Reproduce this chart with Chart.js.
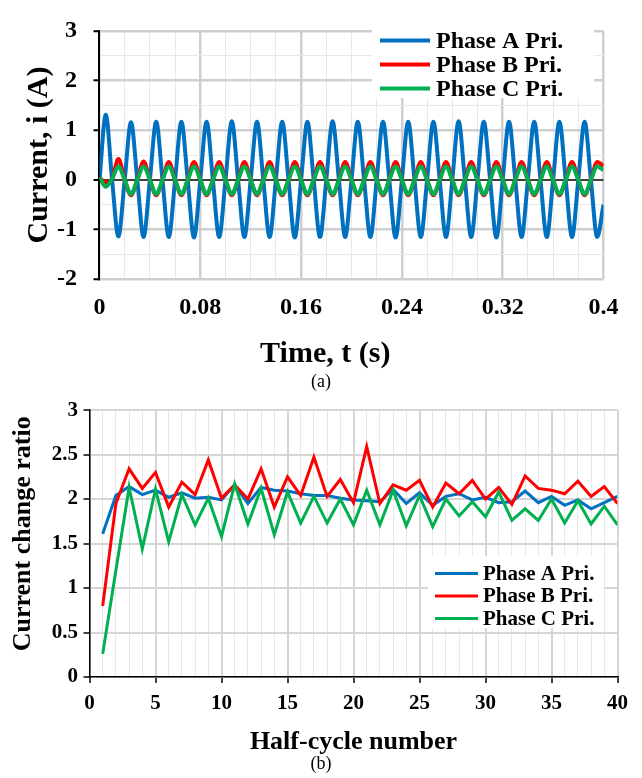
<!DOCTYPE html>
<html>
<head>
<meta charset="utf-8">
<script src="https://cdn.jsdelivr.net/npm/chart.js@4.4.1/dist/chart.umd.min.js"></script>
<style>
  html, body { margin: 0; padding: 0; background: #fff; }
  body { width: 642px; height: 778px; position: relative; overflow: hidden; font-family: 'Liberation Serif', 'Times New Roman', serif; }
  .wrap { position: absolute; left: 0; width: 642px; }
  .cap { position: absolute; left: 0; width: 642px; text-align: center; font-size: 18px; line-height: 20px; color: #000; }
</style>
</head>
<body>
<div class="wrap" style="top:0;height:374px"><canvas id="currentChart"></canvas></div>
<div class="cap" style="top:371px">(a)</div>
<div class="wrap" style="top:392px;height:368px"><canvas id="ratioChart"></canvas></div>
<div class="cap" style="top:753px">(b)</div>

<script>
// ---- figure (a): primary currents vs time ----
var timeS = [
  0, 0.005, 0.01, 0.015, 0.02, 0.025, 0.03, 0.035, 0.04, 0.045,
  0.05, 0.055, 0.06, 0.065, 0.07, 0.075, 0.08, 0.085, 0.09, 0.095,
  0.1, 0.105, 0.11, 0.115, 0.12, 0.125, 0.13, 0.135, 0.14, 0.145,
  0.15, 0.155, 0.16, 0.165, 0.17, 0.175, 0.18, 0.185, 0.19, 0.195,
  0.2, 0.205, 0.21, 0.215, 0.22, 0.225, 0.23, 0.235, 0.24, 0.245,
  0.25, 0.255, 0.26, 0.265, 0.27, 0.275, 0.28, 0.285, 0.29, 0.295,
  0.3, 0.305, 0.31, 0.315, 0.32, 0.325, 0.33, 0.335, 0.34, 0.345,
  0.35, 0.355, 0.36, 0.365, 0.37, 0.375, 0.38, 0.385, 0.39, 0.395,
  0.4
];
var currentA = [
  0, 1.31, 0, -1.14,   0, 1.16, 0, -1.15,   0, 1.17, 0, -1.15,   0, 1.17, 0, -1.16,
  0, 1.17, 0, -1.15,   0, 1.18, 0, -1.15,   0, 1.17, 0, -1.15,   0, 1.17, 0, -1.16,
  0, 1.17, 0, -1.15,   0, 1.18, 0, -1.15,   0, 1.17, 0, -1.15,   0, 1.17, 0, -1.16,
  0, 1.17, 0, -1.15,   0, 1.17, 0, -1.15,   0, 1.18, 0, -1.15,   0, 1.17, 0, -1.16,
  0, 1.17, 0, -1.15,   0, 1.17, 0, -1.15,   0, 1.17, 0, -1.15,   0, 1.17, 0, -1.15,
  -0.5
];
var currentB = [
  0.05, -0.06, 0.02, 0.42,   0, -0.31, 0, 0.37,   0, -0.31, 0, 0.36,   0, -0.31, 0, 0.36,
  0, -0.31, 0, 0.36,   0, -0.31, 0, 0.36,   0, -0.31, 0, 0.36,   0, -0.31, 0, 0.36,
  0, -0.31, 0, 0.36,   0, -0.31, 0, 0.36,   0, -0.31, 0, 0.36,   0, -0.31, 0, 0.36,
  0, -0.31, 0, 0.36,   0, -0.31, 0, 0.36,   0, -0.31, 0, 0.36,   0, -0.31, 0, 0.36,
  0, -0.31, 0, 0.36,   0, -0.31, 0, 0.36,   0, -0.31, 0, 0.36,   0, -0.31, 0, 0.36,
  0.28
];
var currentC = [
  0.05, -0.14, 0.02, 0.27,   0, -0.29, 0, 0.27,   0, -0.29, 0, 0.27,   0, -0.29, 0, 0.27,
  0, -0.29, 0, 0.27,   0, -0.29, 0, 0.27,   0, -0.29, 0, 0.27,   0, -0.29, 0, 0.27,
  0, -0.29, 0, 0.27,   0, -0.29, 0, 0.27,   0, -0.29, 0, 0.27,   0, -0.29, 0, 0.27,
  0, -0.29, 0, 0.27,   0, -0.29, 0, 0.27,   0, -0.29, 0, 0.27,   0, -0.29, 0, 0.27,
  0, -0.29, 0, 0.27,   0, -0.29, 0, 0.27,   0, -0.29, 0, 0.27,   0, -0.29, 0, 0.27,
  0.2
];
var timeTickLabels = ['0', '0.08', '0.16', '0.24', '0.32', '0.4'];
var currentTickLabels = ['-2', '-1', '0', '1', '2', '3'];

// ---- figure (b): current change ratio per half cycle ----
var halfCycle = [1, 2, 3, 4, 5, 6, 7, 8, 9, 10, 11, 12, 13, 14, 15, 16, 17, 18, 19, 20,
  21, 22, 23, 24, 25, 26, 27, 28, 29, 30, 31, 32, 33, 34, 35, 36, 37, 38, 39, 40];
var ratioA = [1.61, 2.04, 2.14, 2.05, 2.10, 2.02, 2.07, 2.01, 2.02, 1.99,
  2.16, 1.95, 2.13, 2.10, 2.09, 2.06, 2.04, 2.04, 2.01, 1.99,
  1.98, 1.97, 2.11, 1.95, 2.07, 1.93, 2.03, 2.06, 1.99, 2.02,
  1.96, 1.97, 2.09, 1.96, 2.03, 1.93, 1.99, 1.89, 1.96, 2.03];
var ratioB = [0.80, 1.95, 2.34, 2.12, 2.30, 1.91, 2.19, 2.05, 2.44, 2.01,
  2.16, 2.00, 2.34, 1.91, 2.25, 2.04, 2.47, 2.03, 2.22, 1.96,
  2.59, 1.95, 2.16, 2.10, 2.21, 1.91, 2.18, 2.06, 2.21, 2.00,
  2.13, 1.94, 2.26, 2.12, 2.10, 2.06, 2.20, 2.03, 2.14, 1.95];
var ratioC = [0.26, 1.20, 2.13, 1.44, 2.11, 1.52, 2.05, 1.71, 2.01, 1.58,
  2.17, 1.72, 2.12, 1.60, 2.08, 1.73, 2.03, 1.73, 2.00, 1.71,
  2.10, 1.71, 2.10, 1.70, 2.04, 1.69, 2.00, 1.81, 1.97, 1.80,
  2.08, 1.76, 1.89, 1.76, 2.00, 1.73, 1.98, 1.72, 1.92, 1.71];
var halfCycleTickLabels = ['0', '5', '10', '15', '20', '25', '30', '35', '40'];
var ratioTickLabels = ['0', '0.5', '1', '1.5', '2', '2.5', '3'];

var phaseNames = ['Phase A Pri.', 'Phase B Pri.', 'Phase C Pri.'];
var phaseColors = ['#0070C0', '#FF0000', '#00B050'];

Chart.defaults.font.family = "'Liberation Serif', 'Times New Roman', serif";
Chart.defaults.font.weight = 'bold';
Chart.defaults.color = '#000000';

var majorGrid = '#cfcfcf';
var minorGrid = '#e8e8e8';
var nbsp = '\u00a0';

// legend with a white box, placed inside the plot like the original
var boxLegend = {
  id: 'boxLegend',
  beforeDatasetsDraw: function(chart, args, o) {
    var c = chart.ctx;
    c.save();
    c.fillStyle = '#ffffff';
    c.fillRect(o.left, o.top, o.width, o.height);
    c.font = 'bold ' + o.fontSize + "px 'Liberation Serif', serif";
    c.textBaseline = 'middle';
    c.textAlign = 'left';
    chart.data.datasets.forEach(function(ds, i) {
      var y = o.firstRow + i * o.rowGap;
      c.strokeStyle = ds.borderColor;
      c.lineWidth = o.lineWidth;
      c.beginPath();
      c.moveTo(o.lineFrom, y);
      c.lineTo(o.lineTo, y);
      c.stroke();
      c.fillStyle = '#000000';
      c.fillText(ds.label, o.textX, y + 1);
    });
    c.restore();
  }
};

function xy(xs, ys) {
  return xs.map(function(x, i) { return {x: x, y: ys[i]}; });
}

// ---------- chart (a) ----------
var currentSeries = [currentA, currentB, currentC];
new Chart(document.getElementById('currentChart'), {
  type: 'line',
  data: {
    datasets: currentSeries.map(function(vals, i) {
      return {
        label: phaseNames[i],
        data: xy(timeS, vals),
        borderColor: phaseColors[i],
        borderWidth: 4,
        pointRadius: 0,
        fill: false,
        cubicInterpolationMode: 'monotone',
        order: 3 - i
      };
    })
  },
  options: {
    responsive: true,
    maintainAspectRatio: false,
    animation: false,
    devicePixelRatio: 1,
    layout: { padding: { left: 0, right: 38.5, top: 18.5, bottom: 0 } },
    plugins: {
      legend: { display: false },
      tooltip: { enabled: false },
      boxLegend: {
        left: 372, top: 26, width: 222, height: 72,
        firstRow: 40.5, rowGap: 24, lineFrom: 380, lineTo: 430, textX: 436,
        lineWidth: 4, fontSize: 24
      }
    },
    scales: {
      x: {
        type: 'linear', min: 0, max: 0.4,
        border: { display: false },
        grid: {
          drawTicks: false,
          color: function(ctx) {
            var k = Math.round(ctx.tick.value / 0.02);
            return k % 4 === 0 ? majorGrid : minorGrid;
          },
          lineWidth: function(ctx) {
            var k = Math.round(ctx.tick.value / 0.02);
            return k % 4 === 0 ? 2.5 : 1;
          }
        },
        ticks: {
          stepSize: 0.02, autoSkip: false, maxRotation: 0, padding: 14,
          font: { size: 24, weight: 'bold' },
          callback: function(v) {
            var k = Math.round(v / 0.02);
            return k % 4 === 0 ? timeTickLabels[k / 4] : '';
          }
        },
        title: {
          display: true, text: 'Time, t (s)' + nbsp.repeat(7),
          font: { size: 30, weight: 'bold' },
          padding: { top: 0, bottom: 2 }
        }
      },
      y: {
        min: -2, max: 3,
        border: { display: true, color: '#000000', width: 2 },
        grid: {
          tickLength: 6,
          color: function(ctx) {
            var k = Math.round(ctx.tick.value * 2);
            if (k === 0) return '#404040';
            return k % 2 === 0 ? majorGrid : minorGrid;
          },
          lineWidth: function(ctx) {
            var k = Math.round(ctx.tick.value * 2);
            if (k === 0) return 2;
            return k % 2 === 0 ? 2.5 : 1;
          },
          tickColor: function(ctx) {
            var k = Math.round(ctx.tick.value * 2);
            return k % 2 === 0 ? '#000000' : 'rgba(0,0,0,0)';
          },
          tickWidth: 2
        },
        ticks: {
          stepSize: 0.5, autoSkip: false, padding: 16.5,
          font: { size: 24, weight: 'bold' },
          callback: function(v) {
            var k = Math.round(v * 2);
            return k % 2 === 0 ? currentTickLabels[k / 2 + 2] : '';
          }
        },
        title: {
          display: true, text: 'Current, i (A)',
          font: { size: 30, weight: 'bold' },
          padding: { top: 21, bottom: -16.5 }
        }
      }
    }
  },
  plugins: [boxLegend]
});

// ---------- chart (b) ----------
var ratioSeries = [ratioA, ratioB, ratioC];
new Chart(document.getElementById('ratioChart'), {
  type: 'line',
  data: {
    datasets: ratioSeries.map(function(vals, i) {
      return {
        label: phaseNames[i],
        data: xy(halfCycle, vals),
        borderColor: phaseColors[i],
        borderWidth: 3,
        pointRadius: 0,
        fill: false,
        tension: 0,
        order: 3 - i
      };
    })
  },
  options: {
    responsive: true,
    maintainAspectRatio: false,
    animation: false,
    devicePixelRatio: 1,
    layout: { padding: { left: 0, right: 24.5, top: 12.8, bottom: 0 } },
    plugins: {
      legend: { display: false },
      tooltip: { enabled: false },
      boxLegend: {
        left: 428, top: 164, width: 176, height: 72,
        firstRow: 181.5, rowGap: 22.5, lineFrom: 435, lineTo: 478, textX: 483,
        lineWidth: 3, fontSize: 21
      }
    },
    scales: {
      x: {
        type: 'linear', min: 0, max: 40,
        border: { display: true, color: '#000000', width: 1.5 },
        grid: {
          tickLength: 6,
          color: function(ctx) { return ctx.tick.value % 5 === 0 ? '#d6d6d6' : minorGrid; },
          lineWidth: function(ctx) { return ctx.tick.value % 5 === 0 ? 2 : 1; },
          tickColor: function(ctx) { return ctx.tick.value % 5 === 0 ? '#000000' : 'rgba(0,0,0,0)'; },
          tickWidth: 1.5
        },
        ticks: {
          stepSize: 1, autoSkip: false, maxRotation: 0, padding: 7.6,
          font: { size: 21, weight: 'bold' },
          callback: function(v) { return v % 5 === 0 ? halfCycleTickLabels[v / 5] : ''; }
        },
        title: {
          display: true, text: 'Half-cycle number',
          font: { size: 26, weight: 'bold' },
          padding: { top: 3.4, bottom: 2 }
        }
      },
      y: {
        min: 0, max: 3,
        border: { display: true, color: '#000000', width: 1.5 },
        grid: {
          tickLength: 6,
          color: '#d6d6d6',
          lineWidth: 2,
          tickColor: '#000000',
          tickWidth: 1.5
        },
        ticks: {
          stepSize: 0.5, autoSkip: false, padding: 5.5,
          font: { size: 21, weight: 'bold' },
          callback: function(v) { return ratioTickLabels[Math.round(v * 2)]; }
        },
        title: {
          display: true, text: nbsp.repeat(3) + 'Current change ratio',
          font: { size: 26, weight: 'bold' },
          padding: { top: 7.4, bottom: 7.65 }
        }
      }
    }
  },
  plugins: [boxLegend]
});
</script>
</body>
</html>
